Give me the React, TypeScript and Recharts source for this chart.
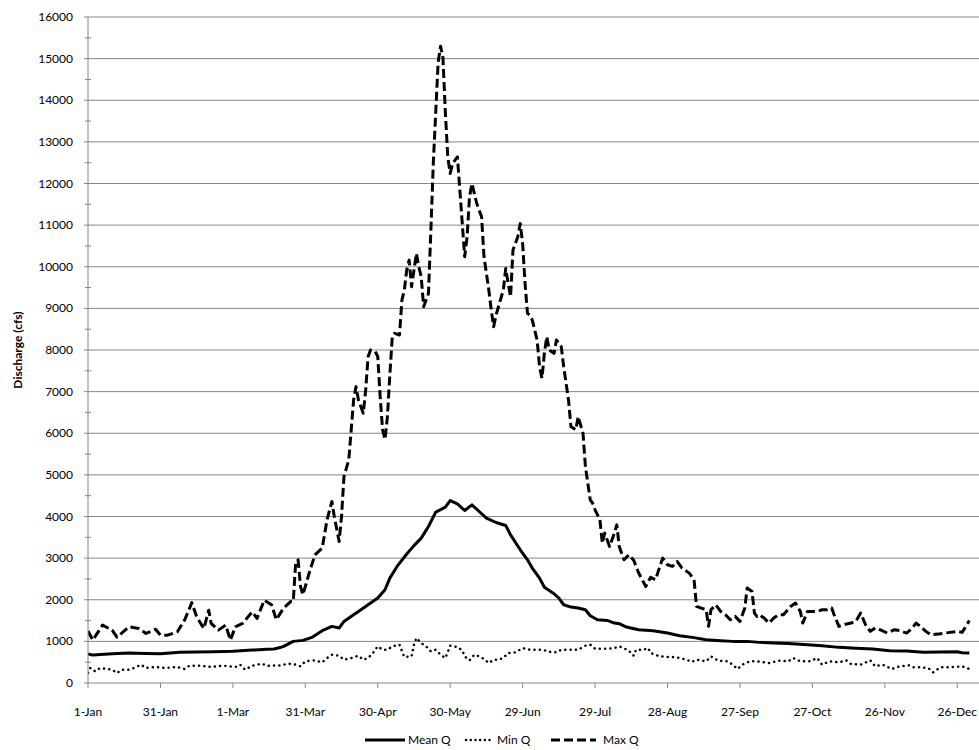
import { LineChart, Line, XAxis, YAxis, CartesianGrid } from 'recharts'

// day of year (0 = 1-Jan, leap year) -> discharge in cfs
const meanQ: [number, number][] = [
  [0, 700], [2, 670], [10, 700], [17, 720], [24, 710], [30, 700], [38, 740], [52, 750],
  [60, 760], [68, 790], [71, 800], [74, 810], [77, 816], [80, 860], [81, 880], [85, 1000],
  [89, 1024], [93, 1104], [97, 1256], [101, 1360], [104, 1320], [106, 1480], [110, 1640],
  [112, 1720], [116, 1880], [120, 2040], [123, 2240], [125, 2520], [128, 2800], [132, 3100],
  [135, 3300], [138, 3480], [141, 3760], [144, 4104], [148, 4224], [150, 4384], [153, 4304],
  [156, 4144], [159, 4280], [162, 4120], [165, 3960], [169, 3856], [173, 3784], [175, 3560],
  [179, 3200], [182, 2960], [184, 2760], [187, 2520], [189, 2300], [193, 2144], [195, 2040],
  [197, 1880], [200, 1824], [203, 1800], [206, 1760], [208, 1616], [211, 1520], [215, 1504],
  [218, 1440], [220, 1424], [223, 1344], [228, 1280], [234, 1256], [240, 1200], [245, 1136],
  [251, 1090], [256, 1040], [262, 1016], [267, 1000], [273, 1000], [278, 976], [284, 960],
  [290, 950], [298, 920], [304, 896], [311, 856], [318, 832], [325, 816], [332, 776],
  [339, 770], [346, 740], [353, 744], [360, 750], [362, 725], [365, 720],
]

const minQ: [number, number][] = [
  [0, 240], [1, 360], [3, 280], [5, 360], [8, 336], [10, 320], [12, 240], [14, 320], [17, 320],
  [19, 360], [22, 440], [24, 360], [28, 384], [32, 360], [37, 384], [40, 336], [42, 416],
  [46, 416], [51, 384], [56, 416], [61, 384], [63, 440], [65, 320], [68, 416], [72, 464],
  [74, 416], [77, 420], [79, 416], [83, 464], [86, 440], [88, 400], [90, 520], [94, 544],
  [97, 496], [99, 600], [101, 680], [104, 656], [106, 560], [109, 600], [112, 656], [114, 560],
  [116, 600], [118, 720], [120, 880], [122, 800], [124, 800], [126, 880], [129, 920], [131, 624],
  [134, 640], [135, 920], [136, 1080], [138, 960], [140, 880], [142, 760], [144, 800], [146, 680],
  [148, 600], [150, 896], [153, 864], [155, 784], [156, 640], [158, 544], [160, 680], [162, 640],
  [164, 576], [166, 480], [168, 560], [170, 560], [172, 600], [174, 720], [177, 736], [180, 840],
  [183, 800], [187, 800], [190, 776], [192, 736], [194, 736], [196, 800], [199, 800], [203, 800],
  [206, 896], [208, 920], [210, 824], [212, 824], [215, 824], [218, 840], [220, 880], [222, 840],
  [224, 760], [225, 736], [226, 656], [227, 800], [230, 800], [232, 840], [233, 720], [236, 656],
  [239, 624], [242, 624], [245, 600], [248, 560], [250, 504], [252, 560], [256, 520], [258, 640],
  [261, 536], [265, 520], [267, 440], [269, 336], [271, 440], [274, 520], [277, 520], [282, 480],
  [286, 536], [290, 520], [292, 600], [295, 520], [299, 520], [302, 600], [304, 440], [307, 520],
  [311, 496], [314, 544], [316, 456], [320, 440], [324, 544], [326, 400], [329, 440], [333, 336],
  [335, 384], [340, 424], [342, 376], [345, 376], [348, 360], [350, 256], [353, 376], [357, 376],
  [362, 400], [365, 336],
]

const maxQ: [number, number][] = [
  [0, 1250], [2, 1030], [6, 1390], [10, 1270], [12, 1100], [17, 1350], [21, 1310], [24, 1190],
  [28, 1290], [30, 1150], [33, 1150], [37, 1230], [40, 1510], [43, 1930], [45, 1590], [48, 1310],
  [50, 1750], [51, 1430], [54, 1270], [57, 1390], [59, 1030], [61, 1350], [64, 1430], [68, 1710],
  [70, 1550], [73, 1990], [76, 1880], [78, 1520], [81, 1800], [84, 1960], [85, 1960], [86, 2880],
  [87, 2960], [88, 2320], [89, 2120], [92, 2720], [94, 3080], [97, 3240], [99, 3920], [101, 4360],
  [102, 4000], [104, 3400], [105, 4000], [106, 4960], [108, 5360], [109, 6080], [110, 6800],
  [111, 7120], [112, 6800], [114, 6480], [115, 7040], [116, 7840], [117, 8000], [119, 7960],
  [120, 7840], [121, 6880], [122, 6080], [123, 5850], [124, 6400], [125, 7400], [126, 8300],
  [127, 8400], [129, 8360], [130, 9200], [131, 9440], [132, 9920], [133, 10160], [134, 9520],
  [135, 9920], [136, 10320], [137, 10000], [138, 9760], [139, 9040], [141, 9360], [142, 10880],
  [143, 12480], [144, 13700], [145, 14900], [146, 15300], [147, 15020], [148, 13700], [149, 12640],
  [150, 12240], [151, 12480], [153, 12640], [154, 11840], [155, 11040], [156, 10240], [157, 10720],
  [158, 11680], [159, 12000], [161, 11520], [163, 11200], [164, 10240], [166, 9440], [167, 8960],
  [168, 8560], [169, 8840], [170, 9040], [172, 9440], [173, 9960], [174, 9600], [175, 9280],
  [176, 10400], [178, 10720], [179, 11040], [180, 10560], [181, 9600], [182, 8880], [183, 8840],
  [184, 8720], [186, 8240], [187, 7600], [188, 7320], [189, 7920], [190, 8320], [191, 8000],
  [193, 7920], [194, 8240], [196, 8080], [197, 7600], [199, 6800], [200, 6160], [202, 6080],
  [203, 6400], [205, 6000], [206, 5200], [208, 4400], [209, 4320], [210, 4160], [212, 3920],
  [213, 3360], [214, 3600], [216, 3280], [218, 3600], [219, 3800], [220, 3280], [222, 2960],
  [224, 3080], [226, 2950], [228, 2650], [231, 2320], [233, 2540], [235, 2480], [238, 3000],
  [240, 2840], [242, 2800], [244, 2920], [246, 2760], [249, 2640], [251, 2480], [252, 1840],
  [254, 1800], [256, 1760], [257, 1360], [258, 1760], [260, 1880], [262, 1720], [264, 1640],
  [266, 1520], [268, 1600], [270, 1480], [272, 1800], [273, 2280], [275, 2200], [276, 1680],
  [277, 1600], [278, 1640], [280, 1560], [282, 1440], [284, 1560], [286, 1640], [288, 1640],
  [291, 1840], [293, 1920], [295, 1720], [296, 1440], [298, 1720], [300, 1720], [302, 1720],
  [304, 1760], [306, 1760], [308, 1800], [309, 1640], [311, 1360], [313, 1400], [316, 1440],
  [318, 1480], [320, 1680], [322, 1400], [324, 1240], [326, 1320], [328, 1280], [331, 1200],
  [334, 1280], [336, 1260], [339, 1200], [341, 1300], [343, 1440], [345, 1344], [347, 1240],
  [349, 1160], [353, 1184], [357, 1216], [360, 1240], [362, 1216], [364, 1400], [365, 1500],
]

const xTickDays = [0, 30, 60, 90, 120, 150, 180, 210, 240, 270, 300, 330, 360]
const xTickLabels = [
  '1-Jan', '31-Jan', '1-Mar', '31-Mar', '30-Apr', '30-May', '29-Jun',
  '29-Jul', '28-Aug', '27-Sep', '27-Oct', '26-Nov', '26-Dec',
]
const yMajor = [0, 1000, 2000, 3000, 4000, 5000, 6000, 7000, 8000, 9000, 10000, 11000, 12000, 13000, 14000, 15000, 16000]
const yTicks = yMajor.flatMap(v => (v < 16000 ? [v, v + 500] : [v]))

const FONT = 'Lato, "Open Sans", sans-serif'
const AXIS = '#868686'

const toRows = (pairs: [number, number][]) => pairs.map(([d, v]) => ({ d, v }))

function YTick({ x, y, payload }: { x?: number; y?: number; payload?: { value: number } }) {
  if (x == null || y == null || !payload) return null
  const major = payload.value % 1000 === 0
  return (
    <g>
      <line x1={major ? x - 4 : x - 3} x2={major ? x : x + 3} y1={y} y2={y} stroke={AXIS} />
      {major && (
        <text x={x - 15} y={y} dy={4} textAnchor="end" fontSize={12} fontFamily={FONT} fill="#000">
          {payload.value}
        </text>
      )}
    </g>
  )
}

function YTitle({ viewBox }: any) {
  const cx = viewBox.x + 22
  const cy = viewBox.y + viewBox.height / 2
  return (
    <text x={cx} y={cy} transform={`rotate(-90, ${cx}, ${cy})`} textAnchor="middle"
      fontSize={12} fontWeight="bold" fontFamily={FONT} fill="#000">
      Discharge (cfs)
    </text>
  )
}

export default function App() {
  return (
    <div style={{ position: 'absolute', left: 0, top: 0, width: 979, height: 750, background: '#fff', fontFamily: FONT }}>
      <LineChart width={979} height={722} margin={{ top: 17, right: 0, bottom: 0, left: 0 }}>
        <CartesianGrid horizontal vertical={false} horizontalValues={yMajor.slice(1)} stroke={AXIS} />
        <XAxis
          type="number"
          dataKey="d"
          domain={[0, 369]}
          ticks={xTickDays}
          tickFormatter={(v: number) => xTickLabels[xTickDays.indexOf(v)] ?? ''}
          interval={0}
          height={39}
          tickSize={5}
          tickMargin={19}
          stroke={AXIS}
          tick={{ fill: '#000', fontSize: 12, fontFamily: FONT }}
          allowDataOverflow
        />
        <YAxis
          type="number"
          domain={[0, 16000]}
          ticks={yTicks}
          interval={0}
          width={88}
          tickSize={0}
          tickMargin={0}
          tickLine={false}
          stroke={AXIS}
          tick={<YTick />}
          label={{ content: <YTitle /> }}
        />
        <Line data={toRows(meanQ)} dataKey="v" name="Mean Q" type="linear" stroke="#000" strokeWidth={3}
          strokeLinejoin="round" dot={false} activeDot={false} isAnimationActive={false} />
        <Line data={toRows(minQ)} dataKey="v" name="Min Q" type="linear" stroke="#000" strokeWidth={2.5}
          strokeDasharray="0.1 5.2" strokeLinecap="round" dot={false} activeDot={false} isAnimationActive={false} />
        <Line data={toRows(maxQ)} dataKey="v" name="Max Q" type="linear" stroke="#000" strokeWidth={3}
          strokeDasharray="9 4" strokeLinejoin="round" dot={false} activeDot={false} isAnimationActive={false} />
      </LineChart>
      <svg width={979} height={28} style={{ position: 'absolute', left: 0, top: 722 }}>
        <line x1={365} x2={405} y1={18} y2={18} stroke="#000" strokeWidth={3} />
        <text x={408} y={22} fontSize={12} fontFamily={FONT}>Mean Q</text>
        <line x1={466} x2={494} y1={18} y2={18} stroke="#000" strokeWidth={2.4} strokeDasharray="0.1 4.6" strokeLinecap="round" />
        <text x={497} y={22} fontSize={12} fontFamily={FONT}>Min Q</text>
        <line x1={551} x2={596} y1={18} y2={18} stroke="#000" strokeWidth={3} strokeDasharray="9 4" />
        <text x={603} y={22} fontSize={12} fontFamily={FONT}>Max Q</text>
      </svg>
    </div>
  )
}
